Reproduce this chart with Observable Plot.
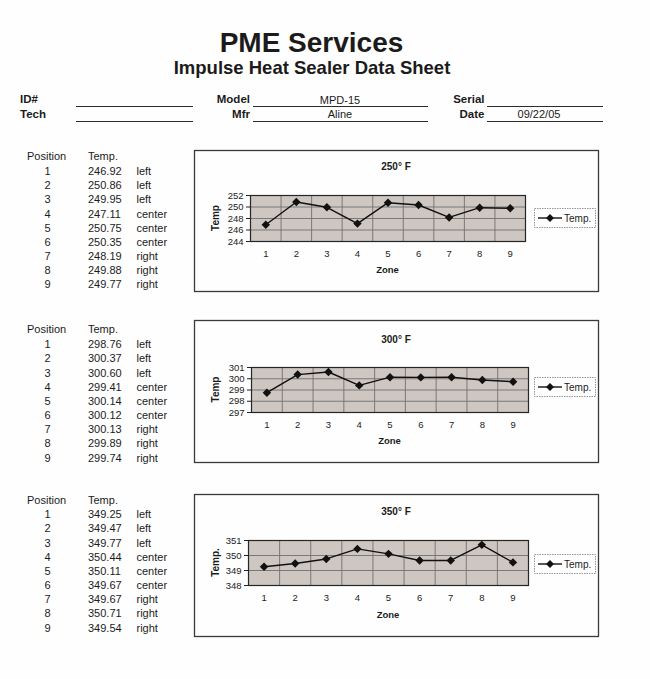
<!DOCTYPE html>
<html>
<head>
<meta charset="utf-8">
<script src="https://cdn.jsdelivr.net/npm/d3@7"></script>
<script src="https://cdn.jsdelivr.net/npm/@observablehq/plot@0.6"></script>
<style>
  html, body { margin: 0; padding: 0; background: #ffffff; }
  #page { position: relative; width: 650px; height: 679px; overflow: hidden;
          font-family: "Liberation Sans", Arial, sans-serif; color: #1b1b1b; background: #fefefe; }
  .chart { position: absolute; }
  .chart svg { display: block; max-width: none; }
</style>
</head>
<body>
<div id="page"></div>
<script>
// ---------------- DATA ----------------
const sheetTitle = "PME Services";
const sheetSubtitle = "Impulse Heat Sealer Data Sheet";
const fieldLabelsLeft = ["ID#", "Tech"];
const fieldLabelsMid = ["Model", "Mfr"];
const fieldValuesMid = ["MPD-15", "Aline"];
const fieldLabelsRight = ["Serial", "Date"];
const fieldValuesRight = ["", "09/22/05"];

const tableHeaders = ["Position", "Temp."];
const zones = [1, 2, 3, 4, 5, 6, 7, 8, 9];
const locations = ["left", "left", "left", "center", "center", "center", "right", "right", "right"];
const temps250 = [246.92, 250.86, 249.95, 247.11, 250.75, 250.35, 248.19, 249.88, 249.77];
const temps300 = [298.76, 300.37, 300.60, 299.41, 300.14, 300.12, 300.13, 299.89, 299.74];
const temps350 = [349.25, 349.47, 349.77, 350.44, 350.11, 349.67, 349.67, 350.71, 349.54];
const chartTitles = ["250° F", "300° F", "350° F"];
const yTicks250 = [244, 246, 248, 250, 252];
const yTicks300 = [297, 298, 299, 300, 301];
const yTicks350 = [348, 349, 350, 351];
const yAxisLabels = ["Temp", "Temp", "Temp."];
const xAxisLabel = "Zone";
const legendLabel = "Temp.";

const seriesTemps = [temps250, temps300, temps350];
const seriesTicks = [yTicks250, yTicks300, yTicks350];

// ---------------- LAYOUT ----------------
const layout = [
  { headY: 159.5, row1Y: 175.0, boxTop: 150, boxH: 142, mL: 56, mR: 74, mT: 45, mB: 51, titleY: 170, zoneY: 273.3, legTop: 208 },
  { headY: 333.3, row1Y: 348.3, boxTop: 320, boxH: 143, mL: 57, mR: 71, mT: 47, mB: 51, titleY: 343.3, zoneY: 444.3, legTop: 377 },
  { headY: 504.0, row1Y: 518.3, boxTop: 494, boxH: 143, mL: 54, mR: 71, mT: 46, mB: 52, titleY: 515, zoneY: 618, legTop: 554 }
];
const boxLeft = 194, boxW = 405, rowStep = 14.17;
const FONT = "Liberation Sans, Arial, sans-serif";
const INK = "#1b1b1b";

const page = d3.select("#page");
const svg = page.append("svg")
  .attr("width", 650).attr("height", 679)
  .style("position", "absolute").style("left", "0px").style("top", "0px")
  .attr("font-family", FONT).attr("fill", INK);

// Title block
svg.append("text").attr("x", 311.5).attr("y", 51.5).attr("text-anchor", "middle")
  .attr("font-size", 28).attr("font-weight", "bold").text(sheetTitle);
svg.append("text").attr("x", 312).attr("y", 74).attr("text-anchor", "middle")
  .attr("font-size", 18.5).attr("font-weight", "bold").text(sheetSubtitle);

// Header fields
const fieldRowsY = [103, 117.5];
const lineRowsY = [106.5, 121.5];
fieldRowsY.forEach((y, i) => {
  svg.append("text").attr("x", 20).attr("y", y).attr("font-size", 11.5).attr("font-weight", "bold").text(fieldLabelsLeft[i]);
  svg.append("text").attr("x", 250).attr("y", y).attr("text-anchor", "end").attr("font-size", 11.5).attr("font-weight", "bold").text(fieldLabelsMid[i]);
  svg.append("text").attr("x", 340).attr("y", y + 0.5).attr("text-anchor", "middle").attr("font-size", 11).text(fieldValuesMid[i]);
  svg.append("text").attr("x", 484.5).attr("y", y).attr("text-anchor", "end").attr("font-size", 11.5).attr("font-weight", "bold").text(fieldLabelsRight[i]);
  svg.append("text").attr("x", 539).attr("y", y + 0.5).attr("text-anchor", "middle").attr("font-size", 11).text(fieldValuesRight[i]);
});
lineRowsY.forEach(y => {
  [[76, 193], [253, 428], [487, 603]].forEach(([a, b]) => {
    svg.append("line").attr("x1", a).attr("x2", b).attr("y1", y).attr("y2", y)
      .attr("stroke", "#2c2c2c").attr("stroke-width", 1.2);
  });
});

const fmt = d3.format(".2f");

layout.forEach((L, k) => {
  const temps = seriesTemps[k];
  const yTicks = seriesTicks[k];

  // Table
  svg.append("text").attr("x", 27).attr("y", L.headY).attr("font-size", 11).text(tableHeaders[0]);
  svg.append("text").attr("x", 88).attr("y", L.headY).attr("font-size", 11).text(tableHeaders[1]);
  zones.forEach((z, i) => {
    const y = L.row1Y + i * rowStep;
    svg.append("text").attr("x", 47.5).attr("y", y).attr("text-anchor", "middle").attr("font-size", 11).text(z);
    svg.append("text").attr("x", 88).attr("y", y).attr("font-size", 11).text(fmt(temps[i]));
    svg.append("text").attr("x", 136.5).attr("y", y).attr("font-size", 11).text(locations[i]);
  });

  // Chart box
  svg.append("rect").attr("x", boxLeft + 0.5).attr("y", L.boxTop + 0.5)
    .attr("width", boxW - 1).attr("height", L.boxH - 1)
    .attr("fill", "none").attr("stroke", "#3a3a3a").attr("stroke-width", 1.3);

  // Chart title
  svg.append("text").attr("x", boxLeft + boxW / 2 - 0.5).attr("y", L.titleY).attr("text-anchor", "middle")
    .attr("font-size", 10).attr("font-weight", "bold").text(chartTitles[k]);

  const plotLeft = boxLeft + L.mL, plotRight = boxLeft + boxW - L.mR;
  const plotTop = L.boxTop + L.mT, plotBottom = L.boxTop + L.boxH - L.mB;

  // Axis titles
  svg.append("text").attr("x", (plotLeft + plotRight) / 2).attr("y", L.zoneY).attr("text-anchor", "middle")
    .attr("font-size", 9.5).attr("font-weight", "bold").text(xAxisLabel);
  const ly = (plotTop + plotBottom) / 2;
  svg.append("text").attr("transform", `translate(${219},${ly}) rotate(-90)`).attr("text-anchor", "middle")
    .attr("font-size", 10).attr("font-weight", "bold").text(yAxisLabels[k]);

  // Legend
  const lg = svg.append("g").attr("transform", `translate(534,${L.legTop})`);
  lg.append("rect").attr("x", 0.5).attr("y", 0.5).attr("width", 61).attr("height", 19)
    .attr("fill", "#ffffff").attr("stroke", "#8a8a8a").attr("stroke-width", 0.9).attr("stroke-dasharray", "1.5,1");
  lg.append("line").attr("x1", 4).attr("x2", 28).attr("y1", 10).attr("y2", 10).attr("stroke", "#111").attr("stroke-width", 1.4);
  lg.append("path").attr("transform", "translate(16,10)").attr("d", d3.symbol(d3.symbolDiamond2, 40)()).attr("fill", "#111");
  lg.append("text").attr("x", 30).attr("y", 13.5).attr("font-size", 10).text(legendLabel);

  // Plot chart
  const rows = zones.map((z, i) => ({ zone: z, temp: temps[i], location: locations[i] }));
  const boundaries = zones.slice(0, -1).map(z => z + 0.5);

  const chart = Plot.plot({
    width: boxW, height: L.boxH,
    marginLeft: L.mL, marginRight: L.mR, marginTop: L.mT, marginBottom: L.mB,
    style: { background: "transparent", fontFamily: FONT, fontSize: "9.5px", color: "#222", overflow: "visible" },
    x: { domain: [zones[0] - 0.5, zones[zones.length - 1] + 0.5], ticks: zones, tickFormat: d => String(d),
         tickSize: 0, tickPadding: 9, label: null },
    y: { domain: [yTicks[0], yTicks[yTicks.length - 1]], ticks: yTicks, tickFormat: d => String(d),
         tickSize: 4, tickPadding: 3, label: null },
    marks: [
      Plot.frame({ fill: "#cdc6c1", stroke: null }),
      Plot.ruleX(boundaries, { stroke: "#707070", strokeWidth: 0.9 }),
      Plot.ruleY(yTicks, { stroke: "#707070", strokeWidth: 0.9 }),
      Plot.frame({ stroke: "#262626", strokeWidth: 1.2 }),
      Plot.line(rows, { x: "zone", y: "temp", stroke: "#111", strokeWidth: 1.4 }),
      Plot.dot(rows, { x: "zone", y: "temp", symbol: "diamond2", r: 3.8, fill: "#111", stroke: "none" })
    ]
  });

  const holder = page.append("div").attr("class", "chart")
    .style("left", boxLeft + "px").style("top", L.boxTop + "px")
    .style("width", boxW + "px").style("height", L.boxH + "px");
  holder.node().appendChild(chart);
});
</script>
</body>
</html>
